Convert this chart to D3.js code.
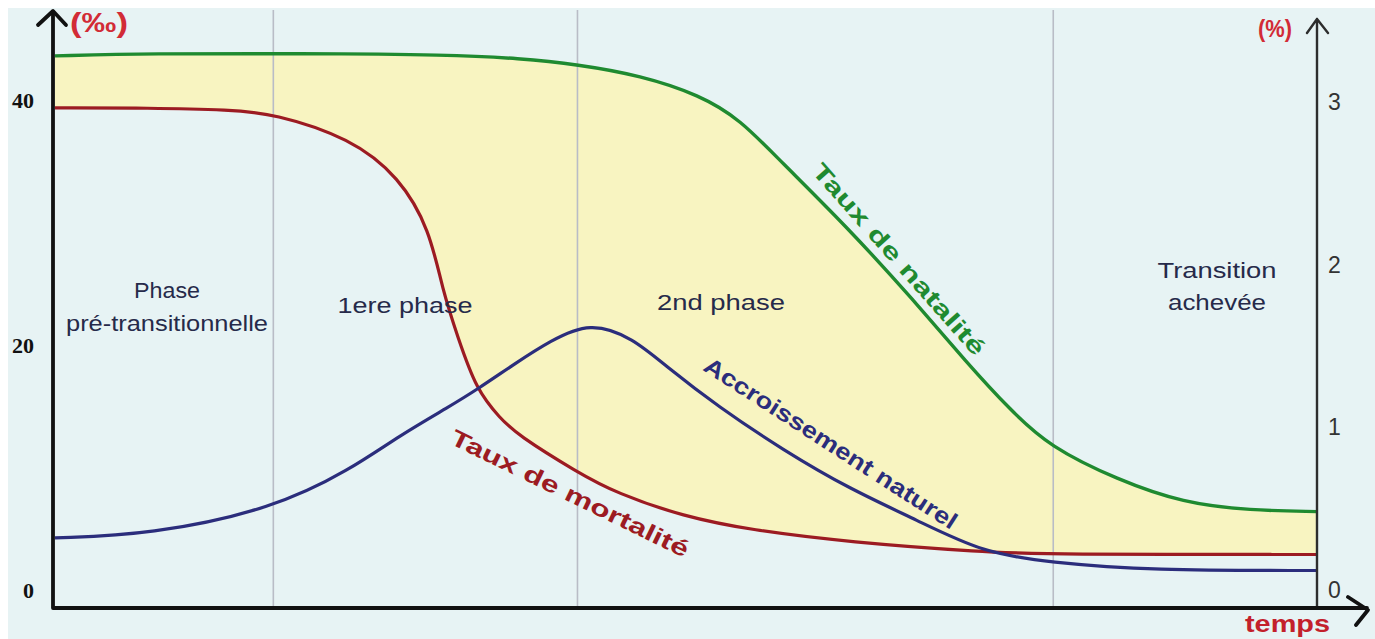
<!DOCTYPE html>
<html><head><meta charset="utf-8">
<script src="https://cdn.jsdelivr.net/npm/d3@7"></script>
<style>html,body{margin:0;padding:0;background:#fff;}svg{display:block;}</style>
</head><body>
<svg id="chart" width="1375" height="639"></svg>
<script>
// ---- data (time index 0..100) ----
const natT = [0, 7.5, 19.4, 31.3, 36.8, 41.4, 46.4, 51.1, 54.3, 57.4, 62.8, 68.0, 72.3, 75.7, 78.8, 84.2, 89.4, 94.7, 100];
const natV = [43.6, 43.8, 43.8, 43.7, 43.4, 42.9, 42.0, 40.4, 38.4, 35.1, 29.6, 23.7, 18.5, 14.7, 11.7, 9.0, 7.1, 6.5, 6.4];
const morT = [0, 7.5, 13.9, 17.3, 23.4, 27.3, 29.7, 30.7, 31.9, 33.4, 35.3, 36.6, 41.4, 44.5, 49.8, 55.1, 63.0, 73.5, 78.8, 100];
const morV = [39.35, 39.35, 39.2, 38.9, 36.9, 33.7, 29.4, 24.5, 20.7, 16.3, 14.0, 12.7, 9.6, 7.9, 6.0, 4.9, 3.9, 3.1, 2.9, 2.9];
const accT = [0, 7.5, 17.3, 23.4, 27.3, 31.3, 33.4, 36.6, 39.2, 42.4, 45.8, 48.5, 52.5, 57.7, 63.0, 68.3, 73.5, 78.8, 86.8, 100];
const accV = [0.32, 0.34, 0.50, 0.74, 0.95, 1.13, 1.23, 1.40, 1.53, 1.65, 1.55, 1.37, 1.13, 0.86, 0.62, 0.43, 0.23, 0.17, 0.12, 0.12];
const phaseBounds = [17.3, 41.4, 79.1];
const leftTicks = [0, 20, 40];
const rightTicks = [0, 1, 2, 3];
const phaseLabels = [["Phase", "pré-transitionnelle"], ["1ere phase"], ["2nd phase"], ["Transition", "achevée"]];
const curveLabels = ["Taux de natalité", "Taux de mortalité", "Accroissement naturel"];

// ---- layout ----
const svg = d3.select("#chart");
const X0 = 53, X1 = 1317, YB = 608;
const x = d3.scaleLinear().domain([0, 100]).range([55, 1317]);
const yL = d3.scaleLinear().domain([0, 40]).range([590, 100]);
const yR = d3.scaleLinear().domain([0, 3]).range([590, 102]);
const BG = "#e7f3f4", YEL = "#f8f4c1";
const GREEN = "#1f8a30", RED = "#9c1b22", BLUE = "#2b2d7c";
const curve = d3.curveBasis;

const nat = natT.map((t, i) => ({t, v: natV[i]}));
const mor = morT.map((t, i) => ({t, v: morV[i]}));
const acc = accT.map((t, i) => ({t, v: accV[i]}));

svg.append("rect").attr("x", 8).attr("y", 8).attr("width", 1367).attr("height", 631).attr("fill", BG);

const areaL = d3.area().x(d => x(d.t)).y0(YB - 2).y1(d => yL(d.v)).curve(curve);
svg.append("path").datum(nat).attr("d", areaL).attr("fill", YEL);
svg.append("path").datum(mor).attr("d", areaL).attr("fill", BG);

// phase gridlines
svg.selectAll("line.grid").data(phaseBounds).join("line")
  .attr("x1", d => x(d)).attr("x2", d => x(d)).attr("y1", 10).attr("y2", YB)
  .attr("stroke", "#b9bcc6").attr("stroke-width", 1.6);

const lineL = d3.line().x(d => x(d.t)).y(d => yL(d.v)).curve(curve);
const lineR = d3.line().x(d => x(d.t)).y(d => yR(d.v)).curve(curve);
svg.append("path").datum(mor).attr("d", lineL).attr("fill", "none").attr("stroke", RED).attr("stroke-width", 3.2);
svg.append("path").datum(nat).attr("d", lineL).attr("fill", "none").attr("stroke", GREEN).attr("stroke-width", 3.4);
svg.append("path").datum(acc).attr("d", lineR).attr("fill", "none").attr("stroke", BLUE).attr("stroke-width", 3.2);

// axes lines with arrows
const ax = svg.append("g").attr("fill", "none").attr("stroke-linecap", "round").attr("stroke-linejoin", "round");
ax.append("path").attr("d", `M${X1},${YB} V19 M${X1-10},33 L${X1},19 L${X1+11},33`).attr("stroke", "#2d2d2d").attr("stroke-width", 2.4);
ax.append("path").attr("d", `M${X0},12 V${YB} H1367 M1348,597 L1368,610 L1356,625`).attr("stroke", "#111").attr("stroke-width", 3.8);
ax.append("path").attr("d", `M38,25 L${X0},11 L66,25`).attr("stroke", "#111").attr("stroke-width", 3.8);

// tick labels via axes
const gl = svg.append("g").attr("transform", `translate(${X0},0)`)
  .call(d3.axisLeft(yL).tickValues(leftTicks).tickFormat(d3.format("d")).tickSize(0).tickPadding(19));
gl.select(".domain").remove();
gl.selectAll("text").attr("font-family", "Liberation Serif, serif").attr("font-weight", "bold").attr("font-size", 22).attr("fill", "#111");

const gr = svg.append("g").attr("transform", `translate(${X1},0)`)
  .call(d3.axisRight(yR).tickValues(rightTicks).tickFormat(d3.format("d")).tickSize(0).tickPadding(11));
gr.select(".domain").remove();
gr.selectAll("text").attr("font-family", "Liberation Sans, Arial, sans-serif").attr("font-size", 23).attr("fill", "#333");

// unit labels
const bold = "Liberation Sans, Arial, sans-serif";
svg.append("text").attr("x", 70).attr("y", 32).attr("font-family", bold).attr("font-weight", "bold")
  .attr("font-size", 27).attr("fill", "#d22b36").attr("textLength", 58).attr("lengthAdjust", "spacingAndGlyphs").text("(‰)");
svg.append("text").attr("x", 1258).attr("y", 37).attr("font-family", bold).attr("font-weight", "bold")
  .attr("font-size", 24).attr("fill", "#d22b36").attr("textLength", 34).attr("lengthAdjust", "spacingAndGlyphs").text("(%)");
svg.append("text").attr("x", 1245).attr("y", 632).attr("font-family", bold).attr("font-weight", "bold")
  .attr("font-size", 23).attr("fill", "#c3202b").attr("textLength", 85).attr("lengthAdjust", "spacingAndGlyphs").text("temps");

// phase labels
const phasePos = [{cx: 167, y: [298, 331], w: [66, 202]}, {cx: 405, y: [313], w: [135]}, {cx: 721, y: [310], w: [128]}, {cx: 1217, y: [278, 310], w: [119, 98]}];
phaseLabels.forEach((lines, i) => {
  lines.forEach((s, j) => {
    svg.append("text").attr("x", phasePos[i].cx).attr("y", phasePos[i].y[j]).attr("text-anchor", "middle")
      .attr("font-family", bold).attr("font-size", 22).attr("fill", "#262a4a")
      .attr("textLength", phasePos[i].w[j]).attr("lengthAdjust", "spacingAndGlyphs").text(s);
  });
});

// rotated curve labels
const rot = [
  {cx: 899, cy: 259, a: 48.5, len: 248, fill: GREEN},
  {cx: 570, cy: 493, a: 26, len: 262, fill: RED},
  {cx: 831, cy: 443, a: 32.8, len: 296, fill: BLUE}
];
curveLabels.forEach((s, i) => {
  const r = rot[i];
  svg.append("text").attr("transform", `translate(${r.cx},${r.cy}) rotate(${r.a})`)
    .attr("text-anchor", "middle").attr("dy", "0.36em")
    .attr("font-family", bold).attr("font-weight", "bold").attr("font-size", 23).attr("fill", r.fill)
    .attr("textLength", r.len).attr("lengthAdjust", "spacingAndGlyphs").text(s);
});
</script>
</body></html>
